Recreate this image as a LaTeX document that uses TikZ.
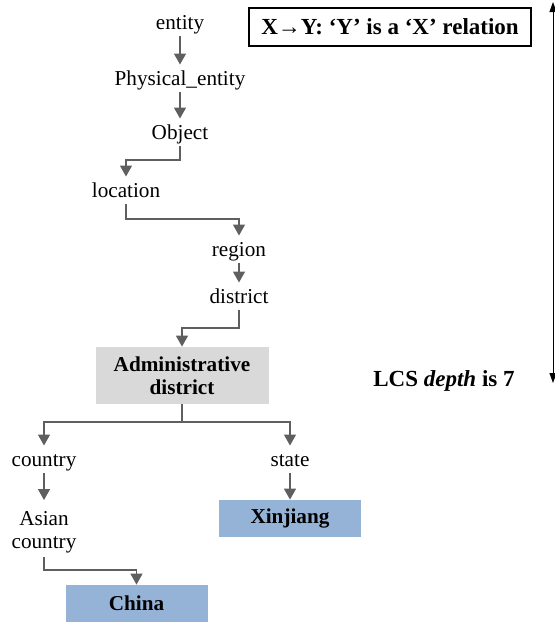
\documentclass[tikz,border=0pt]{standalone}
\usepackage{fontspec}
\setmainfont{Liberation Serif}
\usetikzlibrary{arrows.meta}
\definecolor{arrgray}{HTML}{5F5F5F}
\definecolor{boxgray}{HTML}{D9D9D9}
\definecolor{boxblue}{HTML}{95B3D7}
\begin{document}
\begin{tikzpicture}[x=0.5pt,y=-0.5pt,
  every node/.style={font=\fontsize{10.6pt}{11.5pt}\selectfont},
  term/.style={inner xsep=1pt, inner ysep=1.75pt, text height=8.3pt, text depth=1.3pt, align=center},
  twoline/.style={inner xsep=1pt, inner ysep=1.75pt, align=center},
  arr/.style={draw=arrgray, line width=0.75pt, -{Triangle[length=5.5pt,width=6pt]}, color=arrgray},
  graybox/.style={fill=boxgray, minimum width=86.5pt, minimum height=28.5pt, inner sep=0pt, align=center, font=\fontsize{10.6pt}{11.5pt}\selectfont\bfseries},
  bluebox/.style={fill=boxblue, minimum width=71pt, minimum height=18.5pt, inner sep=0pt, font=\fontsize{10.6pt}{11.5pt}\selectfont\bfseries},
  legendbox/.style={draw=black, line width=0.6pt, fill=white, minimum width=141pt, minimum height=19pt, inner sep=0pt, font=\fontsize{11.5pt}{12pt}\selectfont\bfseries}
]
\useasboundingbox (0,0) rectangle (555,622);

\node[term] (ent) at (180,22) {entity};
\node[term] (phys) at (180,78) {Physical\_entity};
\node[term] (obj) at (180,132) {Object};
\node[term] (loc) at (126,190) {location};
\node[term] (reg) at (239,249) {region};
\node[term] (dis) at (239,296) {district};
\node[graybox] (adm) at (182,375.5) {\raisebox{-1pt}{\shortstack{Administrative\\[1pt]district}}};
\node[term] (ctry) at (44,459) {country};
\node[term] (state) at (290,459) {state};
\node[twoline] (asian) at (44,532) {Asian\\country};
\node[bluebox] (xin) at (290,518.5) {Xinjiang};
\node[bluebox] (china) at (136.5,603.5) {China};
\node[legendbox] (leg) at (390,27) {X\textrightarrow Y: ‘Y’ is a ‘X’ relation};
\node[font=\fontsize{11.5pt}{12pt}\selectfont\bfseries] (lcs) at (444,381) {LCS \textit{depth} is 7};

\coordinate (rt) at (553,2);
\coordinate (rb) at (553,383);
\draw[line width=0.5pt, {Triangle[length=5pt,width=3.5pt]}-{Triangle[length=5pt,width=3.5pt]}] (rt) -- (rb);

\draw[arr] (ent) -- (phys);
\draw[arr] (phys) -- (obj);
\draw[arr] (obj.south) -- (obj.south |- 0,160) -| (loc.north);
\draw[arr] (loc.south) -- (loc.south |- 0,219) -| (reg.north);
\draw[arr] (reg) -- (dis);
\draw[arr] (dis.south) -- (dis.south |- 0,328) -| (adm.north);
\draw[arr] (adm.south) -- (adm.south |- 0,422) -| (ctry.north);
\draw[arr] (adm.south) -- (adm.south |- 0,422) -| (state.north);
\draw[arr] (ctry) -- (ctry |- 0,500);
\draw[arr] (state) -- (xin);
\draw[arr] (asian.south) -- (asian.south |- 0,570) -| (china.north);
\end{tikzpicture}
\end{document}
